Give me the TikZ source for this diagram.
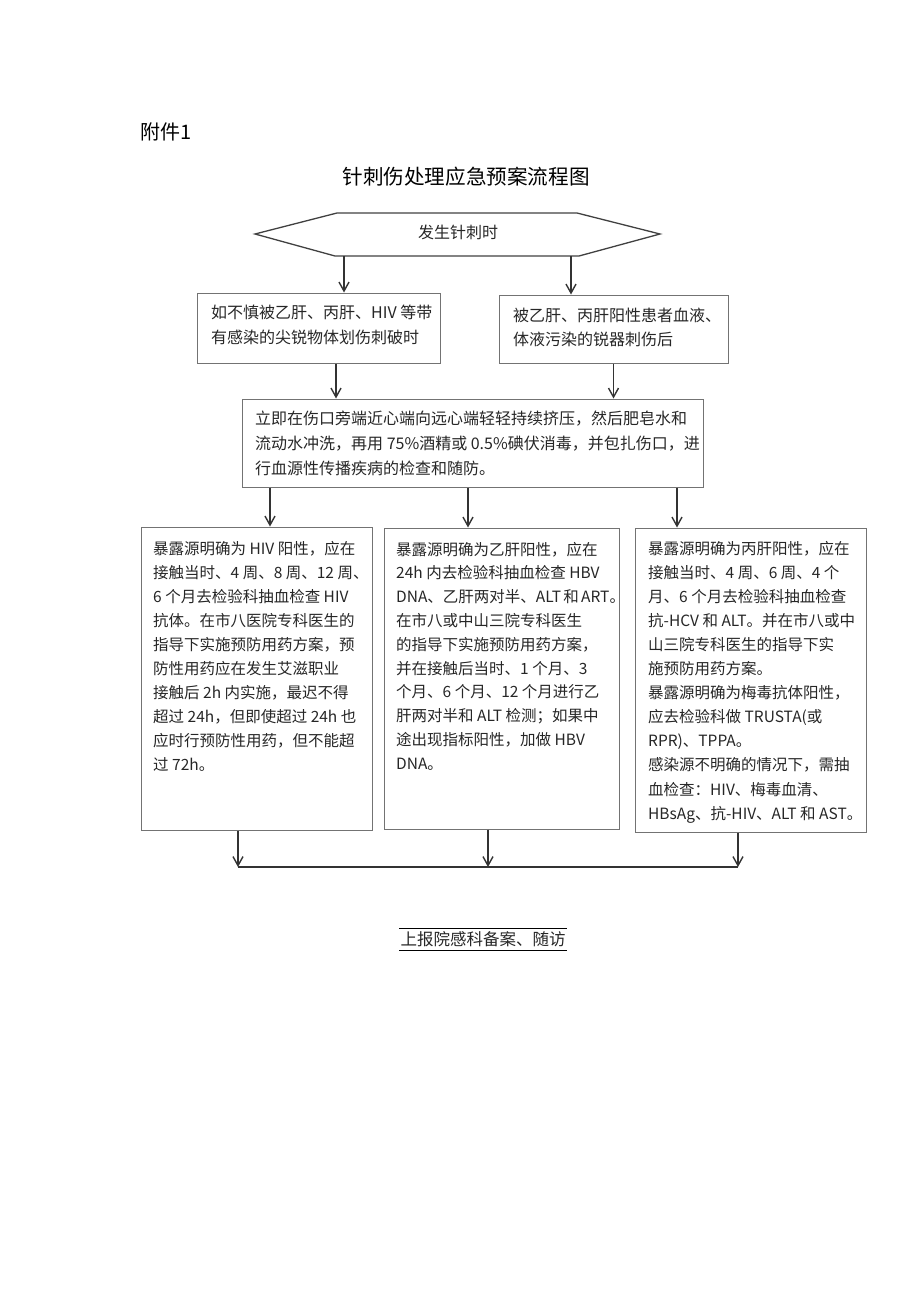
\documentclass[tikz,border=0pt]{standalone}
\usepackage{fontspec}
\setmainfont{Noto Sans CJK SC}
\usetikzlibrary{arrows.meta, positioning}

\begin{document}
\begin{tikzpicture}[
    x=1pt, y=-1pt,
    box/.style={draw=black!55, line width=1pt, inner sep=0pt},
    txt/.style={inner sep=0pt, align=left, anchor=base west, text=black!85,
        font=\fontsize{15.5}{24}\selectfont},
    widetxt/.style={txt, font=\fontsize{16}{25}\selectfont},
    arrow/.style={-{Straight Barb[length=9pt, width=10pt]}, line width=1.4pt, draw=black!80},
    hexline/.style={draw=black!75, line width=1.3pt, line join=miter},
    joinline/.style={draw=black!80, line width=1.8pt}
]
\useasboundingbox (0,0) rectangle (920,1301);

% === Heading ===
\node[anchor=base west, inner sep=0pt, font=\fontsize{20}{24}\selectfont] (annex) at (140,139) {附件1};
\node[anchor=base, inner sep=0pt, font=\fontsize{20.6}{24}\selectfont] (title) at (466,184) {针刺伤处理应急预案流程图};

% === Start (hexagon) ===
\coordinate (hexW) at (255,234);
\coordinate (hexNW) at (337,213);
\coordinate (hexNE) at (577,213);
\coordinate (hexE) at (660,234);
\coordinate (hexSE) at (579,256);
\coordinate (hexSW) at (335,256);
\draw[hexline] (hexW) -- (hexNW) -- (hexNE) -- (hexE) -- (hexSE) -- (hexSW) -- cycle;
\node[anchor=base, inner sep=0pt, text=black!85, font=\fontsize{16}{24}\selectfont] (start) at (458,238) {发生针刺时};
\coordinate (hexOutL) at (344,256);
\coordinate (hexOutR) at (571,256);

% === Two cases (text nodes sit on the baseline of their last line) ===
\node[box, minimum width=243pt, minimum height=70pt] (caseL) at (318.5,328) {};
\node[widetxt] (caseLtxt) at (211,343) {如不慎被乙肝、丙肝、HIV 等带\\有感染的尖锐物体划伤刺破时};
\node[box, minimum width=229pt, minimum height=68pt] (caseR) at (613.5,329) {};
\node[widetxt, font=\fontsize{16}{24.5}\selectfont] (caseRtxt) at (513,345.5) {被乙肝、丙肝阳性患者血液、\\体液污染的锐器刺伤后};

% === First aid ===
\node[box, minimum width=461pt, minimum height=88pt] (firstaid) at (472.5,443) {};
\node[widetxt] (firstaidtxt) at (255,474) {立即在伤口旁端近心端向远心端轻轻持续挤压，然后肥皂水和\\流动水冲洗，再用 75\%酒精或 0.5\%碘伏消毒，并包扎伤口，进\\行血源性传播疾病的检查和随防。};

% === Three follow-up paths ===
\node[box, minimum width=231pt, minimum height=303pt] (hiv) at (256.5,678.5) {};
\node[txt] (hivtxt) at (153,770) {暴露源明确为 HIV 阳性，应在\\接触当时、4 周、8 周、12 周、\\6 个月去检验科抽血检查 HIV\\抗体。在市八医院专科医生的\\指导下实施预防用药方案，预\\防性用药应在发生艾滋职业\\接触后 2h 内实施，最迟不得\\超过 24h，但即使超过 24h 也\\应时行预防性用药，但不能超\\过 72h。};

\node[box, minimum width=235pt, minimum height=301pt] (hbv) at (501.5,678.5) {};
\node[txt, font=\fontsize{15.5}{23.8}\selectfont] (hbvtxt) at (396,769.2) {暴露源明确为乙肝阳性，应在\\24h 内去检验科抽血检查 HBV\\DNA、乙肝两对半、ALT\hspace{0.15em}和\hspace{0.15em}ART。\\在市八或中山三院专科医生\\的指导下实施预防用药方案，\\并在接触后当时、1 个月、3\\个月、6 个月、12 个月进行乙\\肝两对半和 ALT 检测；如果中\\途出现指标阳性，加做 HBV\\DNA。};

\node[box, minimum width=231pt, minimum height=304pt] (hcv) at (750.5,680) {};
\node[txt, font=\fontsize{15.5}{24.1}\selectfont] (hcvtxt) at (648,819.1) {暴露源明确为丙肝阳性，应在\\接触当时、4 周、6 周、4 个\\月、6 个月去检验科抽血检查\\抗-HCV 和 ALT。并在市八或中\\山三院专科医生的指导下实\\施预防用药方案。\\暴露源明确为梅毒抗体阳性，\\应去检验科做 TRUSTA(或\\RPR)、TPPA。\\感染源不明确的情况下，需抽\\血检查：HIV、梅毒血清、\\HBsAg、抗-HIV、ALT 和 AST。};

% === Report ===
\coordinate (joinL) at (238,867);
\coordinate (joinR) at (738,867);
\node[inner sep=0pt, minimum width=167pt, minimum height=22pt, text=black!85,
    font=\fontsize{16.5}{20}\selectfont] (report) at (483,939.5) {上报院感科备案、随访};
\draw[line width=1.2pt] (report.north west) -- (report.north east);
\draw[line width=1.2pt] (report.south west) -- (report.south east);

% ============ ARROWS ============

% Start to cases
\draw[arrow] (hexOutL) -- (hexOutL |- caseL.north);
\draw[arrow] (hexOutR) -- (hexOutR |- caseR.north);

% Cases to first aid
\draw[arrow] ([xshift=17.5pt]caseL.south) -- ([xshift=17.5pt]caseL.south |- firstaid.north);
\draw[arrow] (caseR.south) -- (caseR.south |- firstaid.north);

% First aid to paths
\draw[arrow] ([xshift=-202.5pt]firstaid.south) -- ([xshift=-202.5pt]firstaid.south |- hiv.north);
\draw[arrow] ([xshift=-4.5pt]firstaid.south) -- ([xshift=-4.5pt]firstaid.south |- hbv.north);
\draw[arrow] ([xshift=204.5pt]firstaid.south) -- ([xshift=204.5pt]firstaid.south |- hcv.north);

% Paths to join line
\draw[arrow] ([xshift=-18.5pt]hiv.south) -- ([xshift=-18.5pt]hiv.south |- joinL);
\draw[arrow] ([xshift=-13.5pt]hbv.south) -- ([xshift=-13.5pt]hbv.south |- joinL);
\draw[arrow] ([xshift=-12.5pt]hcv.south) -- ([xshift=-12.5pt]hcv.south |- joinR);
\draw[joinline] (joinL) -- (joinR);

\end{tikzpicture}
\end{document}
